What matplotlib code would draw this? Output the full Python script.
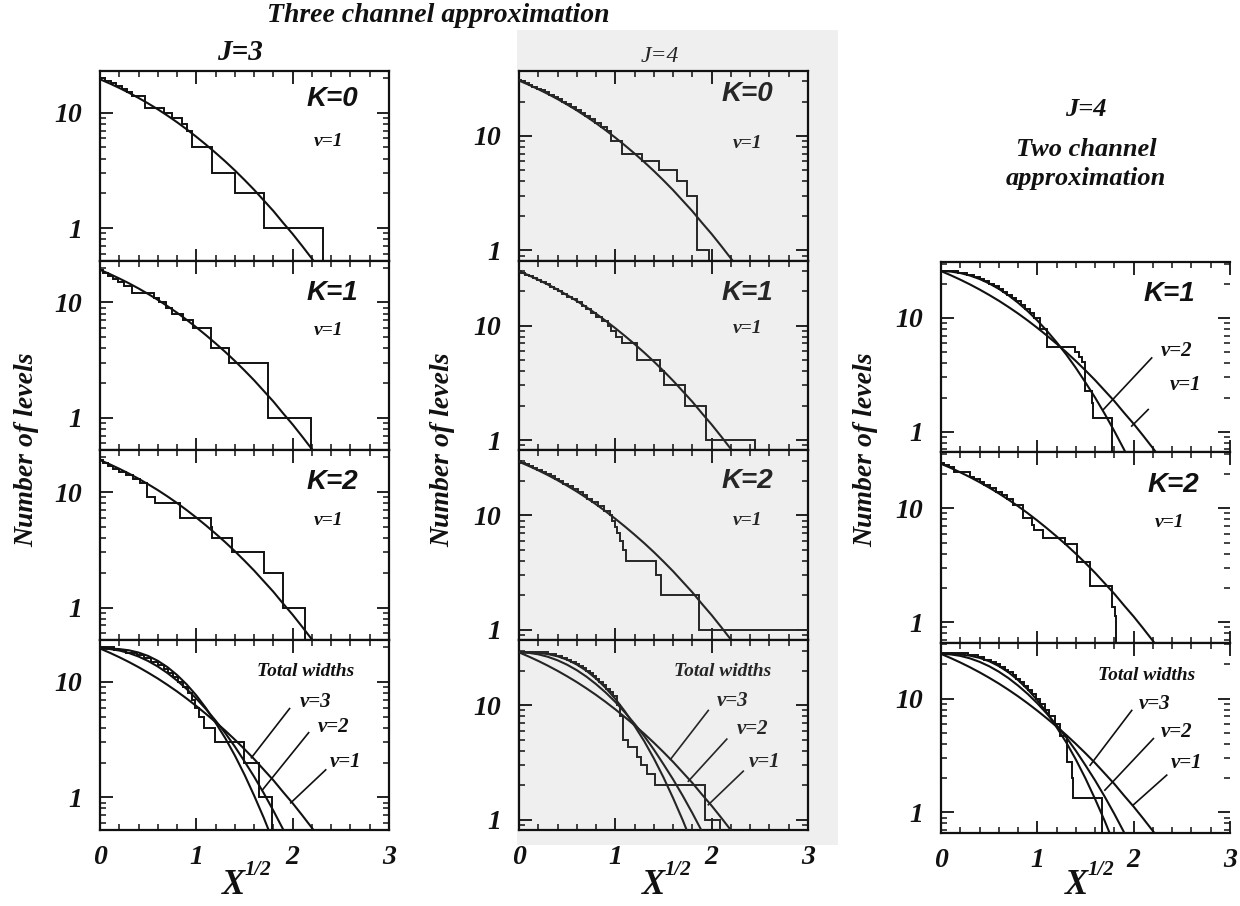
import matplotlib
matplotlib.use("Agg")
import matplotlib.pyplot as plt
from matplotlib.ticker import FixedLocator, MultipleLocator, LogLocator, NullFormatter
from matplotlib.patches import Rectangle

plt.rcParams['font.family'] = ['Liberation Serif', 'DejaVu Serif']

# ---------------- data ----------------
# x grid (sqrt of reduced width) for the fitted Porter-Thomas curves
x_grid = [0.0, 0.1, 0.2, 0.3, 0.4, 0.5, 0.6, 0.7, 0.8, 0.9, 1.0, 1.1, 1.2,
          1.3, 1.4, 1.5, 1.6, 1.7, 1.8, 1.9, 2.0, 2.1, 2.2, 2.3, 2.4]
# fraction of levels above x for the nu=1, nu=2, nu=3 curves
frac_nu1 = [1.000, 0.920, 0.841, 0.764, 0.689, 0.617, 0.549, 0.484, 0.424, 0.368,
            0.317, 0.271, 0.230, 0.194, 0.162, 0.134, 0.110, 0.089, 0.072, 0.057,
            0.0455, 0.0357, 0.0278, 0.0214, 0.0164]
frac_nu2 = [1.000, 0.990, 0.961, 0.914, 0.852, 0.779, 0.698, 0.613, 0.527, 0.445,
            0.368, 0.298, 0.237, 0.185, 0.141, 0.105, 0.0773, 0.0556, 0.0392, 0.0271,
            0.0183, 0.0122, 0.0079, 0.0050, 0.0032]
frac_nu3 = [1.000, 0.998, 0.989, 0.965, 0.923, 0.862, 0.782, 0.690, 0.589, 0.488,
            0.392, 0.304, 0.227, 0.167, 0.118, 0.0805, 0.053, 0.034, 0.021, 0.0128,
            0.0074, 0.0042, 0.0023, 0.0012, 0.0006]

# Three channel approximation, J=3
j3_k0_total = 19.5
j3_k0_edges = [0, 0.05, 0.11, 0.17, 0.23, 0.28, 0.33, 0.47, 0.66, 0.75, 0.85, 0.90,
               0.96, 1.16, 1.40, 1.70, 2.32]
j3_k0_counts = [20, 19, 18, 17, 16, 15, 14, 11, 10, 9, 8, 7, 5, 3, 2, 1]

j3_k1_total = 19.2
j3_k1_edges = [0, 0.03, 0.08, 0.13, 0.19, 0.25, 0.33, 0.56, 0.61, 0.68, 0.75, 0.86,
               0.97, 1.15, 1.34, 1.74, 2.19]
j3_k1_counts = [19, 18, 17, 16, 15, 14, 12, 11, 10, 9, 8, 7, 6, 4, 3, 1]

j3_k2_total = 19.0
j3_k2_edges = [0, 0.03, 0.08, 0.14, 0.20, 0.27, 0.34, 0.42, 0.49, 0.57, 0.83, 1.15,
               1.16, 1.37, 1.70, 1.90, 2.125]
j3_k2_counts = [19, 18, 17, 16, 15, 14, 13, 12, 9, 8, 6, 5, 4, 3, 2, 1]

j3_tot_total = 19.5
j3_tot_edges = [0, 0.15, 0.27, 0.38, 0.46, 0.53, 0.60, 0.66, 0.71, 0.76, 0.81, 0.86,
                0.91, 0.95, 0.99, 1.023, 1.075, 1.197, 1.49, 1.65, 1.79]
j3_tot_counts = [20, 19, 18, 17, 16, 15, 14, 13, 12, 11, 10, 9, 8, 7, 6, 5, 4, 3, 2, 1]

# Three channel approximation, J=4
j4_k0_total = 30.5
j4_k0_edges = [0, 0.02, 0.06, 0.10, 0.14, 0.19, 0.23, 0.27, 0.31, 0.36, 0.40, 0.45,
               0.49, 0.54, 0.59, 0.64, 0.69, 0.74, 0.79, 0.85, 0.91, 0.96, 1.07, 1.28,
               1.45, 1.64, 1.74, 1.85, 1.97]
j4_k0_counts = [31, 30, 29, 28, 27, 26, 25, 24, 23, 22, 21, 20, 19, 18, 17, 16, 15,
                14, 13, 12, 11, 9, 7, 6, 5, 4, 3, 1]

j4_k1_total = 30.0
j4_k1_edges = [0, 0.02, 0.06, 0.10, 0.15, 0.19, 0.23, 0.28, 0.32, 0.36, 0.41, 0.45,
               0.50, 0.55, 0.60, 0.65, 0.70, 0.75, 0.80, 0.86, 0.92, 0.96, 1.01, 1.07,
               1.22, 1.465, 1.50, 1.72, 1.94, 2.45]
j4_k1_counts = [30, 29, 28, 27, 26, 25, 24, 23, 22, 21, 20, 19, 18, 17, 16, 15, 14,
                13, 12, 11, 10, 9, 8, 7, 5, 4, 3, 2, 1]

j4_k2_total = 29.5
j4_k2_edges = [0, 0.02, 0.06, 0.10, 0.15, 0.19, 0.24, 0.28, 0.33, 0.37, 0.42, 0.46,
               0.51, 0.56, 0.61, 0.66, 0.71, 0.76, 0.82, 0.88, 0.94, 0.97, 1.00, 1.02,
               1.05, 1.08, 1.11, 1.42, 1.47, 1.87, 3.2]
j4_k2_counts = [30, 29, 28, 27, 26, 25, 24, 23, 22, 21, 20, 19, 18, 17, 16, 15, 14,
                13, 12, 11, 10, 9, 8, 7, 6, 5, 4, 3, 2, 1]

j4_tot_total = 29.0
j4_tot_edges = [0, 0.30, 0.38, 0.45, 0.50, 0.54, 0.59, 0.625, 0.66, 0.70, 0.735, 0.77,
                0.80, 0.835, 0.87, 0.905, 0.94, 0.98, 1.015, 1.045, 1.083, 1.135, 1.22,
                1.27, 1.33, 1.41, 1.93, 2.09]
j4_tot_counts = [29, 28, 27, 26, 25, 24, 23, 22, 21, 20, 19, 18, 17, 16, 15, 14, 13,
                 12, 10, 8, 5, 4.3, 3.5, 3, 2.5, 2, 1]

# Two channel approximation, J=4
t4_k1_total = 25.8
t4_k1_edges = [0, 0.18, 0.27, 0.34, 0.40, 0.45, 0.50, 0.55, 0.60, 0.645, 0.69, 0.74,
               0.78, 0.83, 0.875, 0.92, 0.97, 1.03, 1.10, 1.39, 1.43, 1.46, 1.495, 1.57,
               1.58, 1.78]
t4_k1_counts = [26, 25, 24, 23, 22, 21, 20, 19, 18, 17, 16, 15, 14, 13, 12, 11, 10, 8,
                5.5, 5, 4.5, 4.1, 2.26, 1.8, 1.33]

t4_k2_total = 24.6
t4_k2_edges = [0, 0.03, 0.08, 0.13, 0.30, 0.34, 0.40, 0.45, 0.51, 0.57, 0.63, 0.69,
               0.75, 0.855, 0.94, 0.97, 1.06, 1.285, 1.41, 1.55, 1.78, 1.81, 1.82]
t4_k2_counts = [25, 24, 23, 21, 19, 18, 17, 16, 15, 14, 13, 12, 10.6, 8.2, 7.1, 6.4,
                5.5, 4.9, 3.4, 2.07, 1.35, 1.13]

t4_tot_total = 24.7
t4_tot_edges = [0, 0.28, 0.38, 0.45, 0.52, 0.57, 0.615, 0.66, 0.70, 0.745, 0.78, 0.82,
                0.86, 0.90, 0.945, 0.985, 1.03, 1.08, 1.12, 1.18, 1.24, 1.31, 1.36, 1.37,
                1.67]
t4_tot_counts = [25, 24, 23, 22, 21, 20, 19, 18, 17, 16, 15, 14, 13, 12, 11, 10, 9, 8,
                 7, 6, 4.7, 2.8, 2.0, 1.33]

x_ticks = [0, 1, 2, 3]
x_tick_labels = ['0', '1', '2', '3']
y_ticks = [1, 10]
y_tick_labels = ['1', '10']

# ---------------- figure ----------------
W, H = 1240, 906
fig = plt.figure(figsize=(W / 100, H / 100), dpi=100)


def fx(px):
    return px / W


def fy(py):
    return 1 - py / H


INK = '#111111'
BI = dict(fontstyle='italic', fontweight='bold')

# faint grey scan background behind the middle column (drawn below the axes)
fig.patches.append(Rectangle((fx(517), fy(845)), fx(838) - fx(517), fy(30) - fy(845),
                             transform=fig.transFigure, facecolor='#efefef',
                             edgecolor='none', zorder=-10))

FRACS = {1: frac_nu1, 2: frac_nu2, 3: frac_nu3}


def draw_hist(ax, edges, counts, color):
    px, py = [edges[0]], [counts[0]]
    for i, c in enumerate(counts):
        px.append(edges[i + 1]); py.append(c)
        nxt = counts[i + 1] if i + 1 < len(counts) else 0.05
        px.append(edges[i + 1]); py.append(nxt)
    ax.plot(px, py, color=color, lw=1.4, solid_joinstyle='miter', zorder=3)


def style_axes(ax, ylim, bottom, face, hide_right=False):
    ax.set_facecolor(face)
    ax.set_xlim(0, 3)
    ax.set_yscale('log')
    ax.set_ylim(*ylim)
    ax.xaxis.set_major_locator(FixedLocator(x_ticks))
    ax.xaxis.set_minor_locator(MultipleLocator(0.2))
    ax.yaxis.set_major_locator(FixedLocator(y_ticks))
    ax.yaxis.set_minor_locator(LogLocator(base=10, subs=[2, 3, 4, 5, 6, 7, 8, 9]))
    ax.yaxis.set_minor_formatter(NullFormatter())
    ax.set_yticklabels(y_tick_labels, fontsize=20, **BI)
    ax.tick_params(which='both', direction='in', top=True, right=True, colors=INK)
    ax.tick_params(which='major', length=9, width=1.3)
    ax.tick_params(which='minor', length=4.5, width=1.1)
    ax.tick_params(axis='y', pad=13)
    if bottom:
        ax.set_xticklabels(x_tick_labels, fontsize=20, **BI)
        ax.tick_params(axis='x', pad=11)
    else:
        ax.tick_params(axis='x', labelbottom=False)
    for s in ax.spines.values():
        s.set_linewidth(1.6)
        s.set_color(INK)
    if hide_right:
        ax.spines['right'].set_visible(False)


def label_with_leader(ax, lab, tpos, line, color):
    ax.text(tpos[0], tpos[1], lab, transform=ax.transAxes, ha='center', va='center',
            fontsize=15, color=color, **BI)
    ax.plot([line[0], line[2]], [line[1], line[3]], transform=ax.transAxes,
            color=color, lw=1.2)


columns = [
    dict(left=100, top=71, bottom=830, ylim=(0.52, 23), face='white', color=INK,
         hide_right=False,
         panels=[
             dict(k='K=0', kpos=(0.805, 0.85), nupos=(0.79, 0.626), total=j3_k0_total,
                  nus=[1], edges=j3_k0_edges, counts=j3_k0_counts),
             dict(k='K=1', kpos=(0.805, 0.83), nupos=(0.79, 0.63), total=j3_k1_total,
                  nus=[1], edges=j3_k1_edges, counts=j3_k1_counts),
             dict(k='K=2', kpos=(0.805, 0.836), nupos=(0.79, 0.63), total=j3_k2_total,
                  nus=[1], edges=j3_k2_edges, counts=j3_k2_counts),
             dict(k=None, total=j3_tot_total, nus=[1, 2, 3], edges=j3_tot_edges,
                  counts=j3_tot_counts, tw=(0.712, 0.836),
                  leaders=[('ν=3', (0.747, 0.677), (0.656, 0.640, 0.524, 0.381)),
                           ('ν=2', (0.809, 0.545), (0.722, 0.513, 0.5625, 0.212)),
                           ('ν=1', (0.851, 0.36), (0.781, 0.317, 0.66, 0.143))]),
         ]),
    dict(left=519, top=71, bottom=830, ylim=(0.81, 37), face='#efefef', color='#262626',
         hide_right=False,
         panels=[
             dict(k='K=0', kpos=(0.79, 0.88), nupos=(0.79, 0.62), total=j4_k0_total,
                  nus=[1], edges=j4_k0_edges, counts=j4_k0_counts),
             dict(k='K=1', kpos=(0.79, 0.83), nupos=(0.79, 0.645), total=j4_k1_total,
                  nus=[1], edges=j4_k1_edges, counts=j4_k1_counts),
             dict(k='K=2', kpos=(0.79, 0.837), nupos=(0.79, 0.63), total=j4_k2_total,
                  nus=[1], edges=j4_k2_edges, counts=j4_k2_counts),
             dict(k=None, total=j4_tot_total, nus=[1, 2, 3], edges=j4_tot_edges,
                  counts=j4_tot_counts, tw=(0.706, 0.835),
                  leaders=[('ν=3', (0.74, 0.68), (0.655, 0.63, 0.524, 0.372)),
                           ('ν=2', (0.81, 0.53), (0.719, 0.479, 0.586, 0.257)),
                           ('ν=1', (0.85, 0.36), (0.776, 0.31, 0.655, 0.133))]),
         ]),
    dict(left=941, top=262, bottom=833, ylim=(0.66, 31), face='white', color=INK,
         hide_right=True,
         panels=[
             dict(k='K=1', kpos=(0.79, 0.83), nupos=None, total=t4_k1_total,
                  nus=[1, 2], edges=t4_k1_edges, counts=t4_k1_counts,
                  leaders=[('ν=2', (0.815, 0.53), (0.729, 0.496, 0.562, 0.225)),
                           ('ν=1', (0.845, 0.356), (0.717, 0.225, 0.660, 0.138))]),
             dict(k='K=2', kpos=(0.803, 0.83), nupos=(0.792, 0.63), total=t4_k2_total,
                  nus=[1], edges=t4_k2_edges, counts=t4_k2_counts),
             dict(k=None, total=t4_tot_total, nus=[1, 2, 3], edges=t4_tot_edges,
                  counts=t4_tot_counts, tw=(0.713, 0.827),
                  leaders=[('ν=3', (0.74, 0.68), (0.66, 0.644, 0.516, 0.356)),
                           ('ν=2', (0.817, 0.53), (0.735, 0.496, 0.567, 0.225)),
                           ('ν=1', (0.851, 0.37), (0.781, 0.304, 0.665, 0.147))]),
         ]),
]

for col in columns:
    n = len(col['panels'])
    ph = (col['bottom'] - col['top']) / n
    for i, p in enumerate(col['panels']):
        ptop = col['top'] + i * ph
        ax = fig.add_axes([fx(col['left']), fy(ptop + ph), 289 / W, ph / H])
        style_axes(ax, col['ylim'], i == n - 1, col['face'], col['hide_right'])
        c = col['color']
        for nu in p['nus']:
            ax.plot(x_grid, [p['total'] * f for f in FRACS[nu]], color=c, lw=1.5, zorder=4)
        draw_hist(ax, p['edges'], p['counts'], c)
        if p.get('k'):
            ax.text(p['kpos'][0], p['kpos'][1], p['k'], transform=ax.transAxes,
                    ha='center', va='center', fontsize=20, color=c,
                    family=['Liberation Sans', 'DejaVu Sans'], **BI)
        if p.get('nupos'):
            ax.text(p['nupos'][0], p['nupos'][1], 'ν=1', transform=ax.transAxes,
                    ha='center', va='center', fontsize=14, color=c, **BI)
        if p.get('tw'):
            ax.text(p['tw'][0], p['tw'][1], 'Total widths', transform=ax.transAxes,
                    ha='center', va='center', fontsize=14, color=c, **BI)
        for lab, tpos, line in p.get('leaders', []):
            label_with_leader(ax, lab, tpos, line, c)

# ---------------- figure texts ----------------
fig.text(fx(438), fy(16), 'Three channel approximation', ha='center', va='center',
         fontsize=20, color=INK, **BI)
fig.text(fx(240), fy(52), 'J=3', ha='center', va='center', fontsize=21, color=INK, **BI)
fig.text(fx(660), fy(57), 'J=4', ha='center', va='center', fontsize=17,
         color='#262626', fontstyle='italic')
fig.text(fx(1086), fy(110), 'J=4', ha='center', va='center', fontsize=19, color=INK, **BI)
fig.text(fx(1086), fy(150), 'Two channel', ha='center', va='center', fontsize=19,
         color=INK, **BI)
fig.text(fx(1086), fy(178), 'approximation', ha='center', va='center', fontsize=19,
         color=INK, **BI)

for xpix, ypix in [(27, 450), (443, 450), (866, 450)]:
    fig.text(fx(xpix), fy(ypix), 'Number of levels', rotation=90, ha='center',
             va='center', fontsize=20, color=INK, **BI)

for xpix in (233, 653, 1076):
    fig.text(fx(xpix), fy(885), 'X', ha='center', va='center', fontsize=25,
             color=INK, **BI)
    fig.text(fx(xpix + 12), fy(870), '1/2', ha='left', va='center', fontsize=15,
             color=INK, **BI)

fig.savefig('out.png', dpi=100)
